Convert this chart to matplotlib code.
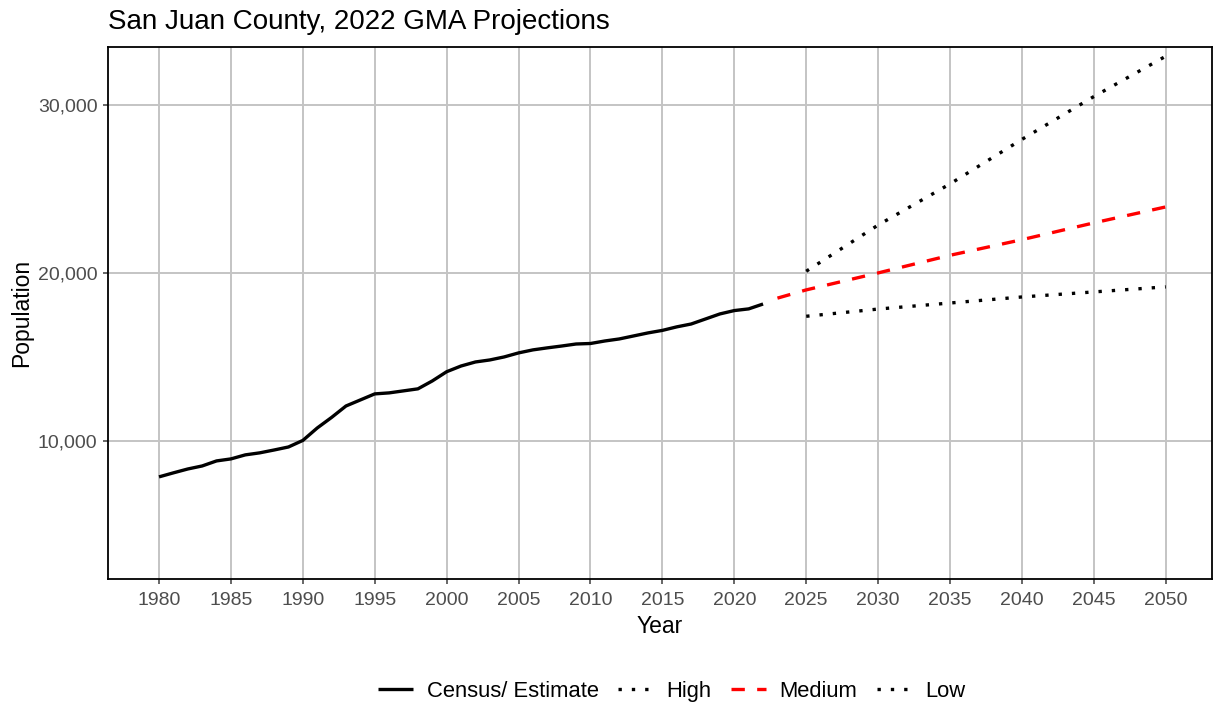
import matplotlib.pyplot as plt
from matplotlib.ticker import FuncFormatter

plt.rcParams["font.family"] = ["Liberation Sans", "DejaVu Sans"]

# Census / estimate series
census_years = list(range(1980, 2023))
census_pop = [7860, 8100, 8330, 8510, 8810, 8930, 9170, 9290, 9460, 9640,
              10030, 10770, 11400, 12080, 12440, 12800, 12860, 12980, 13100, 13570,
              14120, 14460, 14700, 14820, 15000, 15240, 15420, 15540, 15650, 15770,
              15800, 15950, 16070, 16250, 16430, 16580, 16790, 16960, 17260, 17560,
              17760, 17860, 18150]

# Projections
medium_years = [2023, 2025, 2030, 2035, 2040, 2045, 2050]
medium_pop = [18500, 18990, 20000, 21050, 21980, 22980, 23930]

proj_years = [2025, 2030, 2035, 2040, 2045, 2050]
high_pop = [20100, 22850, 25300, 27950, 30500, 32900]
low_pop = [17420, 17850, 18210, 18570, 18870, 19170]

x_ticks = list(range(1980, 2051, 5))
y_ticks = [10000, 20000, 30000]

fig = plt.figure(figsize=(12.13, 7.06), dpi=100)
ax = fig.add_axes([0.089, 0.18, 0.91, 0.7535])

lw = 2.4
ax.plot(census_years, census_pop, color="black", lw=lw, solid_capstyle="butt",
        label="Census/ Estimate", zorder=3)
ax.plot(proj_years, high_pop, color="black", lw=lw, linestyle=(0, (1, 3)),
        dash_capstyle="butt", label="High", zorder=3)
ax.plot(medium_years, medium_pop, color="#FF0000", lw=lw, linestyle=(0, (4, 3.7)),
        dash_capstyle="butt", label="Medium", zorder=3)
ax.plot(proj_years, low_pop, color="black", lw=lw, linestyle=(0, (1, 3)),
        dash_capstyle="butt", label="Low", zorder=3)

ax.set_xlim(1976.45, 2053.2)
ax.set_ylim(1786, 33452)
ax.set_xticks(x_ticks)
ax.set_yticks(y_ticks)
ax.yaxis.set_major_formatter(FuncFormatter(lambda v, p: f"{int(v):,}"))
ax.tick_params(labelsize=14, colors="#4D4D4D", length=3.5, width=1.2, pad=4)
ax.tick_params(axis="x", pad=6)

ax.grid(True, color="#C4C4C4", lw=1.4)
ax.set_axisbelow(True)
for s in ax.spines.values():
    s.set_color("black")
    s.set_linewidth(1.3)

ax.set_xlabel("Year", fontsize=16.5, labelpad=4)
ax.set_ylabel("Population", fontsize=16.5, labelpad=3.5)
ax.set_title("San Juan County, 2022 GMA Projections", fontsize=20, loc="left",
             x=0.0, pad=13)

fig.legend(loc="center", bbox_to_anchor=(0.554, 0.021), ncol=4, frameon=False,
           fontsize=15.8, handlelength=1.6, columnspacing=0.9, handletextpad=0.6)

fig.savefig("out.png", dpi=100)
